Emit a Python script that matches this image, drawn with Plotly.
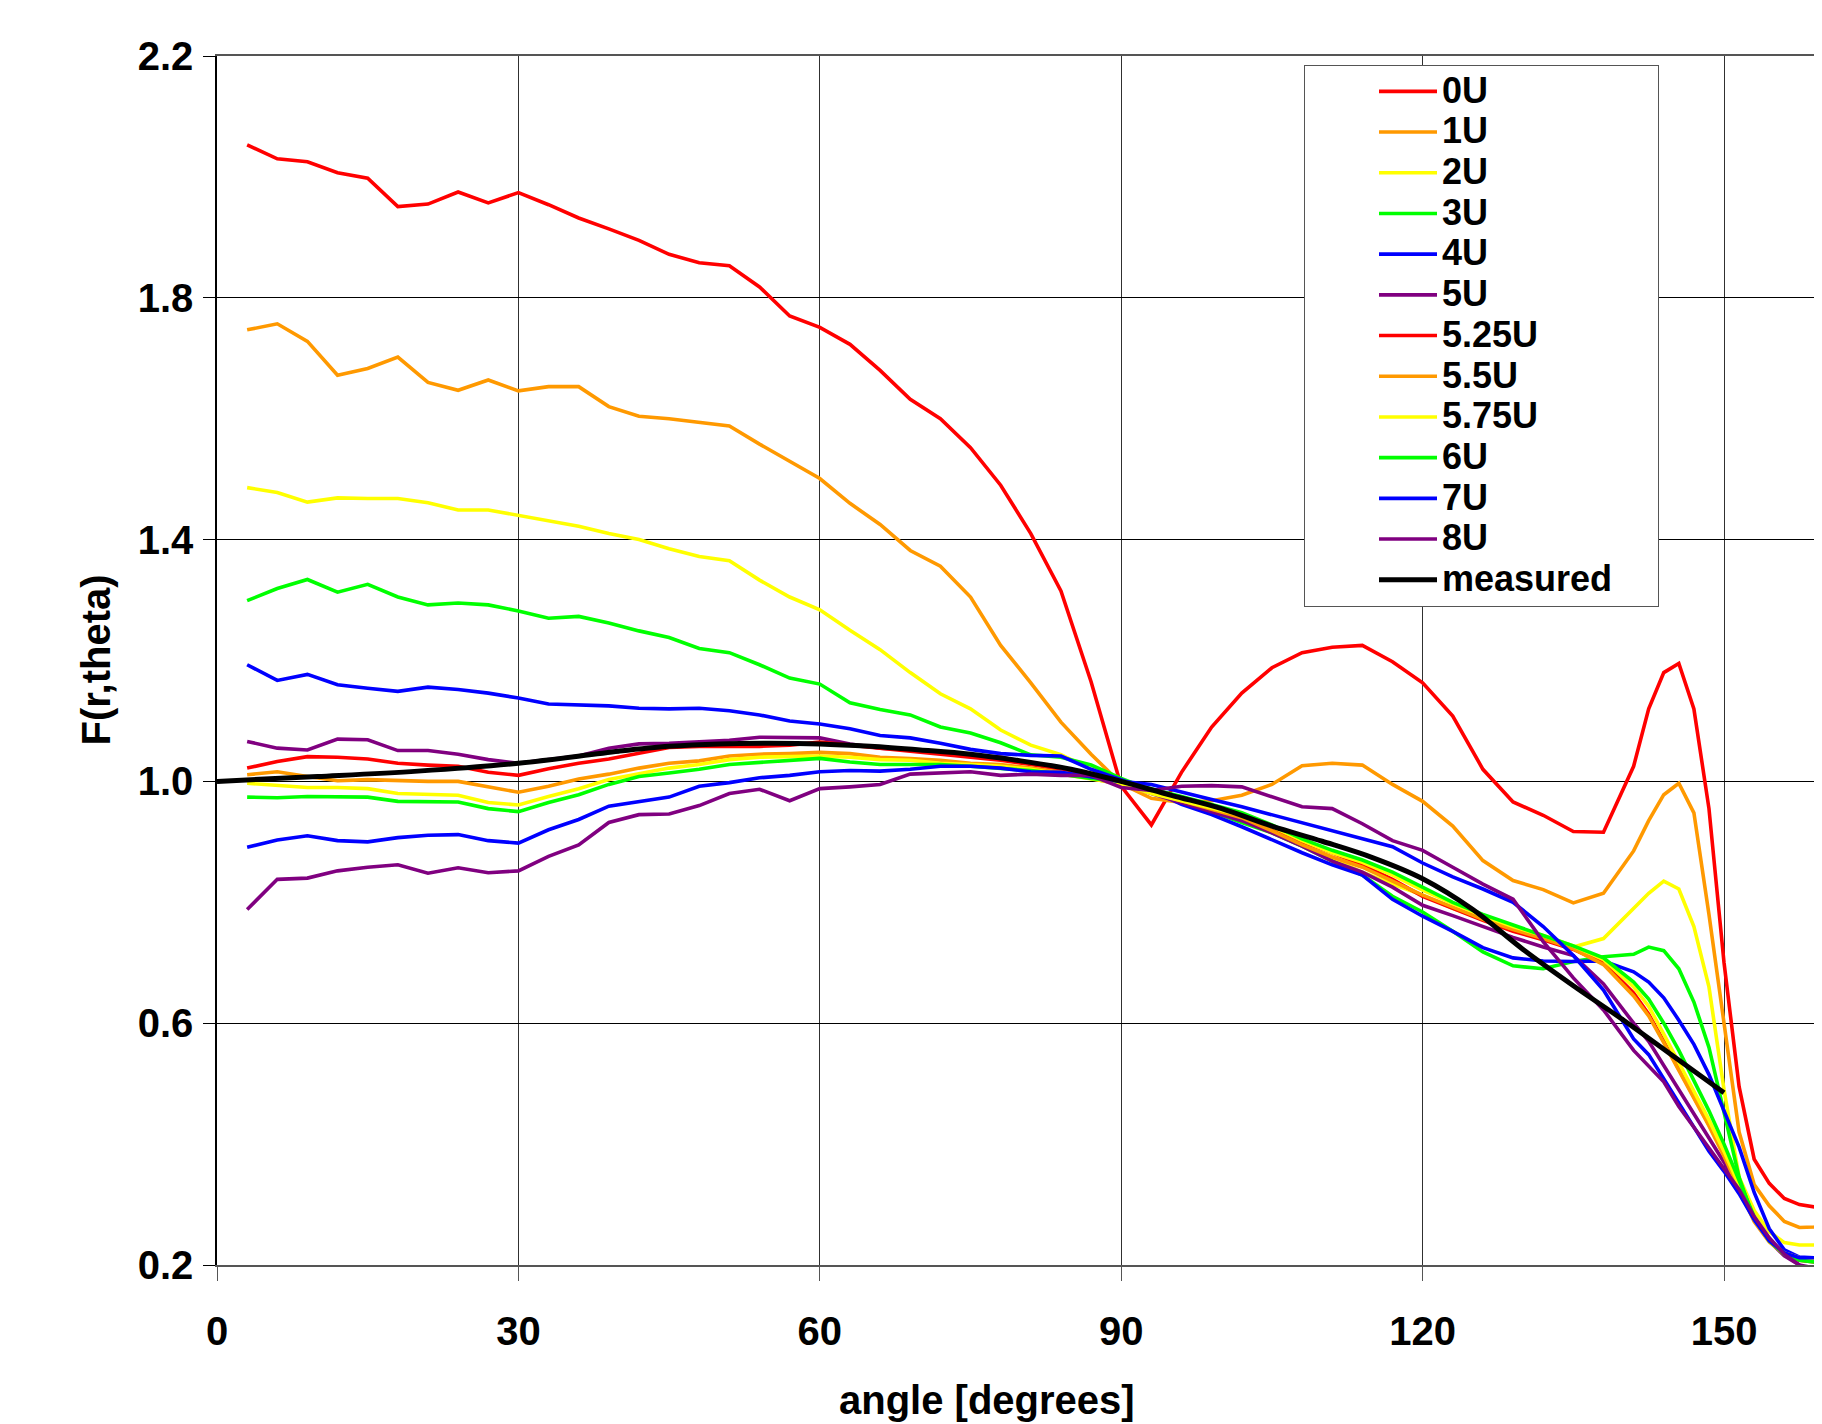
import plotly.graph_objects as go

# ---------------- data ----------------
angle = [3, 6, 9, 12, 15, 18, 21, 24, 27, 30, 33, 36, 39, 42, 45, 48, 51, 54, 57, 60,
         63, 66, 69, 72, 75, 78, 81, 84, 87, 90, 93, 96, 99, 102, 105, 108, 111, 114, 117, 120,
         123, 126, 129, 132, 135, 138, 141, 142.5, 144, 145.5, 147, 148.5, 150, 151.5, 153,
         154.5, 156, 157.5, 159, 160.5]

u0 = [2.053, 2.030, 2.025, 2.007, 1.998, 1.951, 1.955, 1.975, 1.957, 1.974,
      1.954, 1.932, 1.914, 1.895, 1.872, 1.858, 1.853, 1.818, 1.770, 1.751,
      1.723, 1.680, 1.632, 1.600, 1.552, 1.490, 1.410, 1.315, 1.165, 0.992,
      0.928, 1.015, 1.090, 1.146, 1.188, 1.213, 1.222, 1.225, 1.198, 1.163,
      1.108, 1.020, 0.966, 0.944, 0.917, 0.916, 1.025,
      1.120, 1.180, 1.195, 1.120, 0.955, 0.700, 0.495, 0.375, 0.335, 0.310, 0.300, 0.296, 0.300]

u1 = [1.747, 1.757, 1.728, 1.672, 1.683, 1.702, 1.660, 1.647, 1.664, 1.646,
      1.653, 1.653, 1.620, 1.604, 1.600, 1.594, 1.588, 1.558, 1.530, 1.501,
      1.460, 1.425, 1.382, 1.356, 1.305, 1.225, 1.163, 1.098, 1.045, 0.996,
      0.972, 0.965, 0.968, 0.977, 0.995, 1.026, 1.030, 1.027, 0.995, 0.967,
      0.926, 0.869, 0.836, 0.821, 0.799, 0.815, 0.885,
      0.935, 0.978, 0.997, 0.948, 0.780, 0.600, 0.420, 0.333, 0.298, 0.272, 0.262, 0.263, 0.275]

u2 = [1.486, 1.478, 1.462, 1.469, 1.468, 1.468, 1.461, 1.449, 1.449, 1.440,
      1.432, 1.422, 1.410, 1.400, 1.385, 1.372, 1.365, 1.333, 1.305, 1.284,
      1.250, 1.218, 1.180, 1.145, 1.120, 1.085, 1.060, 1.044, 1.020, 1.000,
      0.983, 0.968, 0.958, 0.940, 0.920, 0.895, 0.872, 0.850, 0.830, 0.812,
      0.790, 0.772, 0.755, 0.738, 0.726, 0.740, 0.790,
      0.815, 0.835, 0.822, 0.760, 0.660, 0.490, 0.345, 0.290, 0.255, 0.237, 0.233, 0.233, 0.233]

u3 = [1.299, 1.319, 1.334, 1.313, 1.326, 1.305, 1.292, 1.295, 1.292, 1.282,
      1.270, 1.273, 1.262, 1.249, 1.238, 1.220, 1.213, 1.193, 1.171, 1.161,
      1.130, 1.119, 1.110, 1.090, 1.080, 1.064, 1.044, 1.040, 1.027, 1.005,
      0.985, 0.968, 0.950, 0.932, 0.915, 0.893, 0.868, 0.845, 0.810, 0.784,
      0.752, 0.718, 0.695, 0.690, 0.702, 0.710, 0.714,
      0.726, 0.720, 0.690, 0.635, 0.560, 0.451, 0.345, 0.274, 0.240, 0.220, 0.210, 0.208, 0.208]

u4 = [1.193, 1.167, 1.177, 1.160, 1.154, 1.149, 1.156, 1.152, 1.146, 1.138,
      1.128, 1.127, 1.125, 1.121, 1.120, 1.121, 1.117, 1.110, 1.100, 1.095,
      1.087, 1.076, 1.072, 1.063, 1.053, 1.046, 1.043, 1.042, 1.020, 1.003,
      0.985, 0.962, 0.945, 0.925, 0.903, 0.882, 0.862, 0.845, 0.805, 0.777,
      0.752, 0.725, 0.708, 0.703, 0.702, 0.703, 0.685,
      0.668, 0.642, 0.605, 0.565, 0.515, 0.455, 0.395, 0.320, 0.260, 0.225, 0.213, 0.212, 0.212]

u5 = [1.066, 1.055, 1.052, 1.070, 1.069, 1.051, 1.051, 1.045, 1.036, 1.030,
      1.036, 1.042, 1.055, 1.062, 1.063, 1.066, 1.068, 1.073, 1.073, 1.072,
      1.062, 1.055, 1.052, 1.048, 1.043, 1.040, 1.030, 1.020, 1.008, 0.998,
      0.980, 0.965, 0.950, 0.935, 0.915, 0.893, 0.868, 0.850, 0.825, 0.795,
      0.778, 0.760, 0.742, 0.726, 0.712, 0.665, 0.600,
      0.570, 0.530, 0.490, 0.450, 0.410, 0.370, 0.325, 0.275, 0.240, 0.215, 0.200, 0.195, 0.195]

u525 = [1.022, 1.033, 1.041, 1.040, 1.037, 1.030, 1.027, 1.025, 1.015, 1.010,
        1.021, 1.030, 1.037, 1.047, 1.056, 1.058, 1.058, 1.058, 1.060, 1.065,
        1.060, 1.055, 1.050, 1.045, 1.040, 1.035, 1.028, 1.020, 1.010, 0.995,
        0.985, 0.972, 0.958, 0.945, 0.922, 0.900, 0.882, 0.862, 0.838, 0.810,
        0.790, 0.770, 0.752, 0.738, 0.722, 0.700, 0.650,
        0.615, 0.570, 0.525, 0.480, 0.432, 0.385, 0.330, 0.275, 0.240, 0.218, 0.208, 0.205, 0.205]

u55 = [1.011, 1.016, 1.008, 1.001, 1.003, 1.001, 1.000, 1.000, 0.991, 0.982,
       0.992, 1.004, 1.012, 1.022, 1.030, 1.034, 1.042, 1.045, 1.046, 1.048,
       1.046, 1.040, 1.038, 1.035, 1.030, 1.028, 1.022, 1.015, 1.005, 0.995,
       0.982, 0.968, 0.955, 0.940, 0.918, 0.895, 0.875, 0.858, 0.835, 0.812,
       0.792, 0.772, 0.755, 0.740, 0.723, 0.697, 0.645,
       0.612, 0.568, 0.522, 0.478, 0.430, 0.380, 0.325, 0.272, 0.238, 0.218, 0.210, 0.208, 0.208]

u575 = [0.997, 0.994, 0.990, 0.990, 0.988, 0.980, 0.978, 0.977, 0.965, 0.961,
        0.975, 0.988, 1.003, 1.012, 1.022, 1.028, 1.036, 1.040, 1.041, 1.042,
        1.040, 1.036, 1.035, 1.030, 1.028, 1.025, 1.020, 1.012, 1.003, 0.996,
        0.980, 0.968, 0.957, 0.944, 0.925, 0.902, 0.882, 0.866, 0.845, 0.820,
        0.798, 0.778, 0.760, 0.745, 0.728, 0.705, 0.660,
        0.628, 0.582, 0.535, 0.488, 0.440, 0.388, 0.330, 0.275, 0.240, 0.220, 0.212, 0.210, 0.210]

u6 = [0.974, 0.973, 0.975, 0.974, 0.974, 0.967, 0.966, 0.966, 0.955, 0.950,
      0.965, 0.978, 0.995, 1.008, 1.014, 1.020, 1.028, 1.031, 1.034, 1.038,
      1.032, 1.028, 1.028, 1.028, 1.025, 1.022, 1.018, 1.012, 1.005, 1.000,
      0.988, 0.975, 0.962, 0.948, 0.928, 0.905, 0.886, 0.870, 0.850, 0.825,
      0.800, 0.780, 0.762, 0.745, 0.728, 0.708, 0.668,
      0.640, 0.600, 0.555, 0.505, 0.455, 0.400, 0.340, 0.280, 0.240, 0.218, 0.208, 0.205, 0.205]

u7 = [0.891, 0.903, 0.910, 0.902, 0.900, 0.907, 0.911, 0.912, 0.902, 0.898,
      0.920, 0.937, 0.959, 0.966, 0.974, 0.992, 0.998, 1.006, 1.010, 1.016,
      1.018, 1.017, 1.020, 1.025, 1.025, 1.022, 1.016, 1.015, 1.008, 1.000,
      0.995, 0.982, 0.970, 0.958, 0.945, 0.932, 0.918, 0.905, 0.892, 0.865,
      0.842, 0.822, 0.800, 0.760, 0.712, 0.655, 0.574,
      0.548, 0.508, 0.468, 0.430, 0.388, 0.355, 0.318, 0.275, 0.240, 0.220, 0.212, 0.212, 0.212]

u8 = [0.788, 0.838, 0.840, 0.852, 0.858, 0.862, 0.848, 0.857, 0.849, 0.852,
      0.876, 0.895, 0.932, 0.945, 0.946, 0.960, 0.980, 0.987, 0.968, 0.988,
      0.991, 0.995, 1.012, 1.014, 1.016, 1.010, 1.012, 1.010, 1.010, 0.990,
      0.985, 0.992, 0.993, 0.991, 0.975, 0.958, 0.955, 0.930, 0.902, 0.886,
      0.858, 0.830, 0.805, 0.735, 0.675, 0.622, 0.555,
      0.530, 0.503, 0.462, 0.428, 0.393, 0.360, 0.325, 0.280, 0.245, 0.218, 0.200, 0.186, 0.190]

measured_angle = [0, 10, 20, 30, 40, 45, 50, 55, 60, 65, 70, 75, 80, 85, 90,
                  95, 100, 105, 110, 115, 120, 125, 130, 135, 140, 145, 150]
measured = [1.000, 1.008, 1.017, 1.030, 1.050, 1.058, 1.062, 1.063, 1.062, 1.058, 1.052,
            1.045, 1.034, 1.020, 1.000, 0.977, 0.955, 0.926, 0.901, 0.874, 0.839,
            0.788, 0.722, 0.662, 0.605, 0.545, 0.485]

series_names = ["0U", "1U", "2U", "3U", "4U", "5U", "5.25U", "5.5U", "5.75U", "6U", "7U", "8U"]
series_values = [u0, u1, u2, u3, u4, u5, u525, u55, u575, u6, u7, u8]
series_colors = ["#FF0000", "#FF9900", "#FFFF00", "#00FF00", "#0000FF", "#800080",
                 "#FF0000", "#FF9900", "#FFFF00", "#00FF00", "#0000FF", "#800080"]

x_ticks = [0, 30, 60, 90, 120, 150]
y_ticks = [0.2, 0.6, 1.0, 1.4, 1.8, 2.2]

# ---------------- figure ----------------
FONT = "Liberation Sans, Arial, sans-serif"
OFF = 8                      # page body margin in the browser
W, H = 1822 - OFF, 1424 - OFF
L, R, T = 217 - OFF, 0, 56 - OFF
plot_w = W - L - R           # 1605
plot_h = 1209
B = H - T - plot_h


def px_x(page_x):
    return (page_x - OFF - L) / plot_w


def px_y(page_y):
    return 1 - (page_y - OFF - T) / plot_h


def leg(name, pad=0):
    return '<span style="font-size:36px">' + name + '&nbsp;' * pad + '</span>'


fig = go.Figure()
for name, vals, col in zip(series_names, series_values, series_colors):
    fig.add_trace(go.Scatter(x=angle, y=vals, mode="lines", name=leg(name),
                             line=dict(color=col, width=3.6)))
fig.add_trace(go.Scatter(x=measured_angle, y=measured, mode="lines", name=leg("measured", 4),
                         line=dict(color="black", width=5, shape="spline")))

fig.update_layout(
    width=W, height=H,
    margin=dict(l=L, r=R, t=T, b=B, pad=0),
    paper_bgcolor="white", plot_bgcolor="white",
    font=dict(family=FONT, size=40, color="black", weight="bold"),
    showlegend=True,
    legend=dict(
        x=px_x(1304), y=px_y(65),
        xanchor="left", yanchor="top",
        bgcolor="white", bordercolor="#555555", borderwidth=1,
        font=dict(family=FONT, size=29, color="black", weight="bold"),
        itemwidth=58, indentation=69, tracegroupgap=0,
    ),
    xaxis=dict(
        range=[0, 159.75], tickmode="array", tickvals=x_ticks,
        ticktext=[str(v) for v in x_ticks],
        showgrid=True, gridcolor="#303030", gridwidth=1,
        showline=True, linecolor="#555555", linewidth=2, mirror=True,
        ticks="outside", ticklen=14, tickcolor="#555555", tickwidth=1,
        ticklabelstandoff=16, zeroline=False,
        tickfont=dict(family=FONT, size=40, color="black", weight="bold"),
    ),
    yaxis=dict(
        range=[0.2, 2.2], tickmode="array", tickvals=y_ticks,
        ticktext=["%.1f" % v for v in y_ticks],
        showgrid=True, gridcolor="black", gridwidth=1,
        showline=True, linecolor="black", linewidth=1.5,
        ticks="outside", ticklen=12, tickcolor="black", tickwidth=1,
        ticklabelstandoff=2, zeroline=False,
        tickfont=dict(family=FONT, size=40, color="black", weight="bold"),
    ),
    annotations=[
        dict(text="angle [degrees]", xref="paper", yref="paper",
             x=px_x(987), y=px_y(1400),
             xanchor="center", yanchor="middle", showarrow=False,
             font=dict(family=FONT, size=40, color="black", weight="bold")),
        dict(text="F(r,theta)", xref="paper", yref="paper", textangle=-90,
             x=px_x(95), y=0.5,
             xanchor="center", yanchor="middle", showarrow=False,
             font=dict(family=FONT, size=40, color="black", weight="bold")),
    ],
)

fig.write_html("out.html")
